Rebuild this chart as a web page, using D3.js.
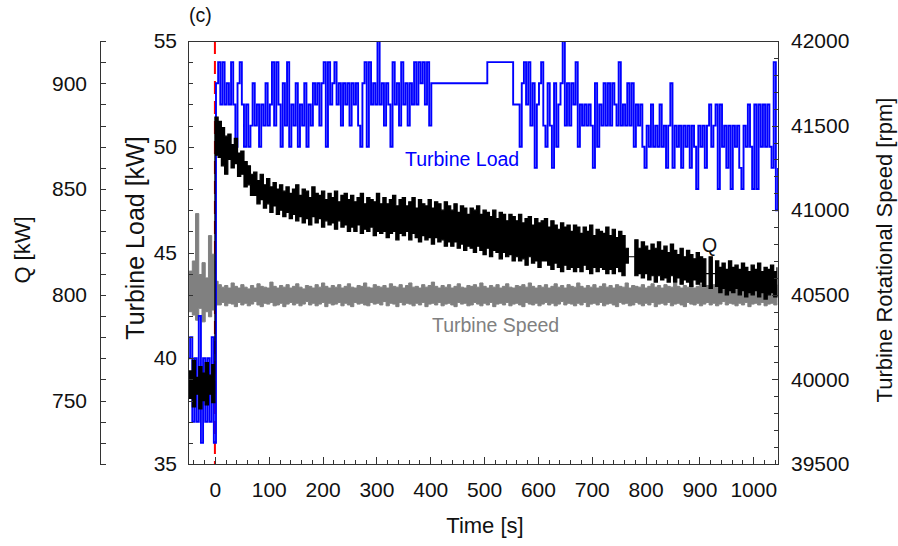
<!DOCTYPE html>
<meta charset="utf-8">
<style>
body { margin: 0; background: #fff; }
text { font-family: "Liberation Sans", Arial, sans-serif; fill: #111; }
.tick text { font-size: 21px; }
.axis path, .axis line { stroke: #333; stroke-width: 1; shape-rendering: crispEdges; }
.noDomain path { display: none; }
.atitle { font-size: 22px; }
.note { font-size: 19.5px; }
</style>
<body>
<script src="https://cdn.jsdelivr.net/npm/d3@7/dist/d3.min.js"></script>
<script>
// turbine load [kW], sampled every 4 s from t = -50 s
var loadVals = [
  40,41,37,40,37,42,36,40,37,40,
  37,41,36,53,54,52,54,52,53,52,
  54,52,50,53,54,52,50,52,50,51,
  53,51,52,50,52,51,53,51,52,54,
  51,54,52,50,53,51,54,50,52,51,
  53,50,52,51,53,50,52,51,53,52,
  53,51,53,54,50,54,52,53,54,52,
  53,51,53,52,53,51,53,52,53,51,
  50,53,54,50,54,52,53,52,55,52,
  53,51,53,52,50,54,52,53,51,54,
  52,53,51,53,52,54,52,54,53,54,
  52,54,51,53,53,53,53,53,53,53,
  53,53,53,53,53,53,53,53,53,53,
  53,53,53,53,53,53,53,53,53,54,
  54,54,54,54,54,54,54,54,54,54,
  54,52,52,52,50,53,54,52,54,51,
  53,49,52,53,54,51,50,53,51,49,
  53,50,52,53,55,51,53,51,53,52,
  54,50,52,51,52,51,52,51,49,53,
  50,52,51,53,51,53,51,53,52,51,
  54,51,52,51,53,51,53,50,52,51,
  52,50,49,51,50,52,50,51,50,52,
  50,51,49,51,53,49,51,50,51,49,
  51,50,51,49,51,50,48,51,50,51,
  49,51,52,50,51,52,48,52,50,51,
  49,51,48,51,50,51,49,48,51,50,
  52,50,48,52,48,52,50,52,50,52,
  50,49,54,47,49
];
var loadTime = loadVals.map(function(v, i) { return -50 + 4 * i; });

// Q [kW] upper / lower edge of the noisy trace, every 6 s from t = -48 s
var qHigh = [
  764,769,761,766,763,768,762,767,884,882,
  879,875,876,871,874,867,868,863,861,857,
  858,854,857,852,855,851,853,850,852,849,
  851,848,850,852,847,850,849,846,851,848,
  847,849,845,848,846,849,844,847,848,845,
  847,844,846,848,843,846,845,844,848,843,
  846,843,845,847,842,845,846,842,844,846,
  841,845,843,842,845,841,844,843,840,844,
  842,840,843,839,842,841,838,841,840,842,
  838,840,839,837,840,836,839,838,835,838,
  837,835,838,834,836,837,833,836,834,835,
  836,832,835,833,831,834,832,833,830,833,
  832,829,832,830,833,828,831,830,829,832,
  828,831,827,830,828,822,818,818,826,822,
  825,823,821,824,822,825,821,823,820,824,
  821,819,822,818,821,819,817,820,818,817,
  810,818,810,816,813,815,812,816,813,814,
  812,815,813,811,814,812,815,811,813,812,
  814,811,813
];
var qLow = [
  751,747,753,746,750,748,753,749,866,865,
  861,857,864,860,862,856,857,851,852,847,
  847,843,845,841,843,839,842,838,840,837,
  839,836,838,835,837,834,836,833,837,834,
  836,832,835,833,834,831,835,832,833,830,
  832,830,833,829,831,830,832,828,830,829,
  830,827,829,830,826,829,828,830,826,829,
  827,825,828,826,827,824,827,825,826,823,
  825,823,825,822,824,821,823,822,820,823,
  821,819,822,818,821,820,817,820,818,819,
  816,818,816,817,814,818,815,816,813,816,
  816,814,812,815,813,811,814,812,813,811,
  813,811,814,812,810,813,811,813,812,810,
  812,810,813,811,809,815,818,818,809,810,
  808,810,807,809,806,809,807,808,806,809,
  806,808,805,807,806,804,807,805,806,804,
  810,803,810,804,801,803,800,802,801,803,
  800,802,799,801,800,802,799,801,798,800,
  801,799,800
];

// turbine speed [rpm] upper / lower edge, same 6 s sampling
var spdHigh = [
  40640,40700,40980,40620,40690,40600,40850,40740,40580,
  40560,40545,40555,40540,40570,40550,40540,40560,40545,40535,
  40555,40540,40565,40550,40545,40540,40575,40550,40540,40555,
  40545,40560,40540,40550,40565,40545,40535,40555,40550,40540,
  40560,40545,40570,40550,40540,40555,40545,40560,40540,40550,
  40565,40545,40540,40555,40550,40570,40545,40540,40560,40550,
  40545,40555,40540,40565,40550,40545,40560,40540,40555,40570,
  40545,40550,40540,40560,40545,40555,40575,40550,40540,40555,
  40545,40560,40540,40550,40565,40545,40540,40555,40550,40560,
  40545,40570,40550,40540,40555,40545,40560,40540,40550,40565,
  40545,40540,40555,40550,40560,40545,40570,40550,40540,40555,
  40545,40560,40540,40550,40565,40545,40555,40540,40560,40550,
  40545,40570,40550,40540,40555,40545,40560,40540,40550,40565,
  40545,40555,40540,40560,40550,40545,40570,40540,40555,40550,
  40545,40560,40540,40550,40565,40545,40555,40540,40560,40550,
  40545,40570,40550,40540,40555,40545,40560,40540,40550,40565,
  40545,40555,40540,40560,40550,40545,40570,40540,40555,40550,
  40545,40560,40540,40550,40565,40545,40555,40540,40560,40550,
  40545,40555,40560,40550
];
var spdLow = [
  40400,40380,40350,40420,40340,40400,40370,40410,40440,
  40440,40455,40435,40450,40445,40430,40455,40440,40450,40435,
  40445,40460,40440,40430,40450,40445,40455,40435,40440,40450,
  40430,40445,40455,40440,40450,40435,40445,40460,40440,40450,
  40435,40445,40455,40430,40450,40440,40445,40455,40435,40450,
  40440,40430,40455,40445,40450,40440,40435,40455,40445,40450,
  40440,40460,40435,40450,40445,40430,40455,40440,40450,40445,
  40435,40450,40440,40455,40430,40445,40450,40440,40455,40435,
  40445,40450,40440,40430,40455,40445,40450,40435,40440,40455,
  40445,40435,40450,40440,40455,40430,40445,40450,40440,40455,
  40435,40445,40450,40440,40430,40455,40445,40440,40450,40435,
  40445,40455,40440,40450,40435,40445,40460,40440,40450,40445,
  40435,40450,40440,40455,40430,40445,40450,40440,40455,40435,
  40445,40450,40440,40430,40455,40445,40450,40435,40440,40455,
  40445,40435,40450,40440,40455,40430,40445,40450,40440,40455,
  40435,40445,40450,40440,40430,40455,40445,40440,40450,40435,
  40445,40455,40440,40450,40435,40445,40460,40440,40450,40445,
  40435,40450,40440,40455,40430,40445,40450,40440,40455,40435,
  40445,40450,40440,40455
];
var sampleTime = qHigh.map(function(v, i) { return -48 + 6 * i; });

var timeTicks = [0,100,200,300,400,500,600,700,800,900,1000];
var loadTicks = [35,40,45,50,55];
var qTicks = [750,800,850,900];
var spdTicks = [39500,40000,40500,41000,41500,42000];

var W = 898, H = 546;
var pLeft = 188, pRight = 778, pTop = 41, pBottom = 464;

var svg = d3.select("body").append("svg")
	.attr("width", W)
	.attr("height", H);

var x = d3.scaleLinear().domain([-50, 1046]).range([pLeft, pRight]);
var yLoad = d3.scaleLinear().domain([35, 55]).range([pBottom, pTop]);
var yQ = d3.scaleLinear().domain([720, 920]).range([pBottom, pTop]);
var ySpd = d3.scaleLinear().domain([39500, 42000]).range([pBottom, pTop]);

svg.append("clipPath").attr("id", "plotClip")
	.append("rect")
	.attr("x", pLeft).attr("y", pTop)
	.attr("width", pRight - pLeft).attr("height", pBottom - pTop);

var plot = svg.append("g").attr("clip-path", "url(#plotClip)");

// step start marker
plot.append("line")
	.attr("x1", x(0)).attr("x2", x(0))
	.attr("y1", pTop).attr("y2", pBottom)
	.style("stroke", "#ff0000")
	.style("stroke-width", 2)
	.style("stroke-dasharray", "13,7");

var rows = sampleTime.map(function(t, i) {
	return {t: t, qh: qHigh[i], ql: qLow[i], sh: spdHigh[i], sl: spdLow[i]};
});

var spdArea = d3.area()
	.curve(d3.curveStepAfter)
	.x(function(d) { return x(d.t); })
	.y0(function(d) { return ySpd(d.sl); })
	.y1(function(d) { return ySpd(d.sh); });

plot.append("path")
	.attr("d", spdArea(rows))
	.style("fill", "#808080")
	.style("stroke", "#808080")
	.style("stroke-width", 1);

var loadLine = d3.line()
	.curve(d3.curveStepAfter)
	.x(function(d, i) { return x(loadTime[i]); })
	.y(function(d) { return yLoad(d); });

plot.append("path")
	.attr("d", loadLine(loadVals))
	.style("fill", "none")
	.style("stroke", "#0000ff")
	.style("stroke-width", 1.9);

var qArea = d3.area()
	.curve(d3.curveStepAfter)
	.x(function(d) { return x(d.t); })
	.y0(function(d) { return yQ(d.ql); })
	.y1(function(d) { return yQ(d.qh); });

plot.append("path")
	.attr("d", qArea(rows))
	.style("fill", "#000")
	.style("stroke", "#000")
	.style("stroke-width", 1.2);

// frame
svg.append("rect")
	.attr("x", pLeft).attr("y", pTop)
	.attr("width", pRight - pLeft).attr("height", pBottom - pTop)
	.style("fill", "none")
	.style("stroke", "#333")
	.style("shape-rendering", "crispEdges");

var fmt = d3.format("d");

// bottom axis
svg.append("g").attr("class", "axis noDomain")
	.attr("transform", "translate(0," + pBottom + ")")
	.call(d3.axisBottom(x).tickValues(d3.range(-40, 1041, 20)).tickSize(-4).tickFormat(""));
svg.append("g").attr("class", "axis noDomain")
	.attr("transform", "translate(0," + pBottom + ")")
	.call(d3.axisBottom(x).tickValues(timeTicks).tickSize(-7).tickPadding(18).tickFormat(fmt));

// turbine load axis
svg.append("g").attr("class", "axis noDomain")
	.attr("transform", "translate(" + pLeft + ",0)")
	.call(d3.axisLeft(yLoad).tickValues(d3.range(35, 56, 1)).tickSize(-5).tickFormat(""));
svg.append("g").attr("class", "axis noDomain")
	.attr("transform", "translate(" + pLeft + ",0)")
	.call(d3.axisLeft(yLoad).tickValues(loadTicks).tickSize(-6).tickPadding(11).tickFormat(fmt));

// speed axis
svg.append("g").attr("class", "axis noDomain")
	.attr("transform", "translate(" + pRight + ",0)")
	.call(d3.axisRight(ySpd).tickValues(d3.range(39500, 42001, 100)).tickSize(-4).tickFormat(""));
svg.append("g").attr("class", "axis noDomain")
	.attr("transform", "translate(" + pRight + ",0)")
	.call(d3.axisRight(ySpd).tickValues(spdTicks).tickSize(-6).tickPadding(13).tickFormat(fmt));

// Q axis, standing apart on the left
svg.append("g").attr("class", "axis")
	.attr("transform", "translate(100,0)")
	.call(d3.axisLeft(yQ).tickValues(d3.range(720, 921, 10)).tickSizeInner(-6).tickSizeOuter(0).tickFormat(""));
svg.append("g").attr("class", "axis noDomain")
	.attr("transform", "translate(100,0)")
	.call(d3.axisLeft(yQ).tickValues(qTicks).tickSize(-6).tickPadding(13).tickFormat(fmt));

svg.selectAll(".tick text").style("fill", "#111");

// titles
svg.append("text").attr("class", "atitle")
	.attr("transform", "translate(30,250) rotate(-90)")
	.attr("text-anchor", "middle")
	.text("Q [kW]");
svg.append("text").attr("class", "atitle")
	.attr("transform", "translate(144,238) rotate(-90)")
	.attr("text-anchor", "middle")
	.style("font-size", "25px")
	.text("Turbine Load [kW]");
svg.append("text").attr("class", "atitle")
	.attr("transform", "translate(892,250) rotate(-90)")
	.attr("text-anchor", "middle")
	.text("Turbine Rotational Speed [rpm]");
svg.append("text").attr("class", "atitle")
	.attr("x", 485).attr("y", 533)
	.attr("text-anchor", "middle")
	.text("Time [s]");
svg.append("text").attr("class", "note")
	.attr("x", 189).attr("y", 22)
	.text("(c)");

svg.append("text").attr("class", "note")
	.attr("x", 405).attr("y", 166)
	.style("fill", "#0000ff")
	.text("Turbine Load");
svg.append("text").attr("class", "note")
	.attr("x", 702).attr("y", 252)
	.text("Q");
svg.append("text").attr("class", "note")
	.attr("x", 432).attr("y", 332)
	.style("fill", "#808080")
	.text("Turbine Speed");
</script>
